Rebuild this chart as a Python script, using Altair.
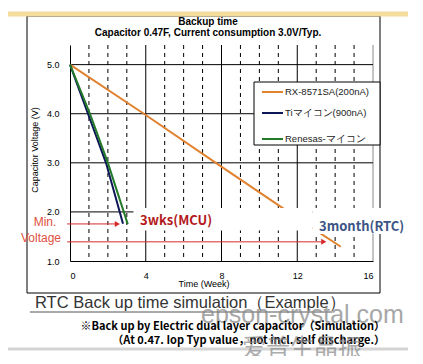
import altair as alt
import pandas as pd

# ---- data ----
weeks_rtc = [0.0, 3.9, 7.7, 12.8, 14.3]
volts_rtc = [5.0, 4.0, 3.0, 1.67, 1.29]
weeks_ti = [0.0, 0.95, 1.9, 2.8]
volts_ti = [5.0, 4.0, 3.0, 1.76]
weeks_ren = [0.0, 1.05, 2.0, 3.05]
volts_ren = [5.0, 4.0, 3.0, 1.75]
series_names = ["RX-8571SA(200nA)", "Tiマイコン(900nA)", "Renesas-マイコン"]
series_colors = ["#e0822f", "#0d1757", "#237a2a"]

x_ticks = [0, 4, 8, 12, 16]
y_ticks = [1.0, 2.0, 3.0, 4.0, 5.0]
minor_weeks = [1, 2, 3, 5, 6, 7, 9, 10, 11, 13, 14, 15]
major_weeks = [4, 8, 12]
h_grid = [2.0, 3.0, 4.0, 5.0]

arrow_y = [1.755, 1.39]
arrow_end = [2.5, 13.4]

rows = []
for n, xs, ys in [(series_names[0], weeks_rtc, volts_rtc),
                  (series_names[1], weeks_ti, volts_ti),
                  (series_names[2], weeks_ren, volts_ren)]:
    for i, (a, b) in enumerate(zip(xs, ys)):
        rows.append({"series": n, "week": a, "volt": b, "order": i})
df = pd.DataFrame(rows)

W, H = 303, 216
xs = alt.Scale(domain=[0, 16], nice=False, zero=False)
ys = alt.Scale(domain=[1, 5.4], nice=False, zero=False)
FONT = "Liberation Sans"

base = alt.Chart(df)

vminor = alt.Chart(pd.DataFrame({"w": minor_weeks})).mark_rule(
    color="black", strokeWidth=1, strokeDash=[4, 4]).encode(
    x=alt.X("w:Q", scale=xs), y=alt.value(0), y2=alt.value(H))
vmajor = alt.Chart(pd.DataFrame({"w": major_weeks})).mark_rule(
    color="black", strokeWidth=1).encode(
    x=alt.X("w:Q", scale=xs), y=alt.value(0), y2=alt.value(H))
vright = alt.Chart(pd.DataFrame({"w": [16]})).mark_rule(
    color="#888888", strokeWidth=1).encode(
    x=alt.X("w:Q", scale=xs), y=alt.value(0), y2=alt.value(H))
hgrid = alt.Chart(pd.DataFrame({"v": h_grid})).mark_rule(
    color="black", strokeWidth=1).encode(
    y=alt.Y("v:Q", scale=ys), x=alt.value(0), x2=alt.value(W))

lines = base.mark_line(strokeWidth=2).encode(
    x=alt.X("week:Q", scale=xs,
            axis=alt.Axis(values=x_ticks, format="d", grid=False, ticks=False,
                          domainColor="black", labelFont=FONT, labelFontSize=9,
                          labelColor="black", labelPadding=10, title=None)),
    y=alt.Y("volt:Q", scale=ys,
            axis=alt.Axis(values=y_ticks, format=".1f", grid=False, ticks=False,
                          domainColor="black", labelFont=FONT, labelFontSize=9,
                          labelColor="black", labelPadding=11, title=None)),
    color=alt.Color("series:N", scale=alt.Scale(domain=series_names, range=series_colors),
                    legend=None),
    order="order:Q",
)

boxes = alt.Chart(pd.DataFrame({"x1": [3.35, 12.8], "x2": [12.8, 17.7],
                                "y1": [1.62, 1.55], "y2": [2.08, 2.08]})).mark_rect(
    color="white").encode(
    x=alt.X("x1:Q", scale=xs), x2="x2:Q",
    y=alt.Y("y1:Q", scale=ys), y2="y2:Q")

arr_df = pd.DataFrame({"y": arrow_y, "xe": arrow_end, "xs": [-0.15, -0.15]})
arrows = alt.Chart(arr_df).mark_rule(color="#d42a2a", strokeWidth=1).encode(
    x=alt.X("xs:Q", scale=xs), x2="xe:Q", y=alt.Y("y:Q", scale=ys))
heads = alt.Chart(arr_df).mark_point(shape="triangle-right", filled=True,
                                     color="#d42a2a", size=36, opacity=1).encode(
    x=alt.X("xe:Q", scale=xs), y=alt.Y("y:Q", scale=ys))

ann = alt.Chart(pd.DataFrame({"t": ["3wks(MCU)", "3month(RTC)"],
                              "x": [3.7, 13.15], "y": [1.82, 1.69],
                              "c": ["#b3191c", "#3c5585"]})).mark_text(
    align="left", baseline="middle", font="Noto Sans CJK JP", fontSize=13,
    fontWeight="bold").encode(
    x=alt.X("x:Q", scale=xs), y=alt.Y("y:Q", scale=ys), text="t:N",
    color=alt.Color("c:N", scale=None))

def txt(t, x, y, size=10, bold=False, color="black", align="center",
        font=FONT, angle=0, opacity=1.0):
    kw = dict(text=t, fontSize=size, color=color, align=align, baseline="middle",
              font=font, opacity=opacity)
    if bold:
        kw["fontWeight"] = "bold"
    if angle:
        kw["angle"] = angle
    return alt.Chart(pd.DataFrame({"a": [0]})).mark_text(**kw).encode(
        x=alt.value(x), y=alt.value(y))

def rule(x1, y1, x2, y2, color="black", width=1):
    return alt.Chart(pd.DataFrame({"a": [0]})).mark_rule(
        color=color, strokeWidth=width).encode(
        x=alt.value(x1), x2=alt.value(x2), y=alt.value(y1), y2=alt.value(y2))

# legend (drawn by hand to match the boxed legend)
leg_rows = [47, 68, 94]
legend_layers = [
    alt.Chart(pd.DataFrame({"a": [0]})).mark_rect(
        fill="white", stroke="black", strokeWidth=1).encode(
        x=alt.value(184), x2=alt.value(310), y=alt.value(37), y2=alt.value(100))
]
for name, col, ry in zip(series_names, series_colors, leg_rows):
    legend_layers.append(rule(192, ry, 213, ry, color=col, width=2))
    legend_layers.append(txt(name, 215, ry, size=9.5, align="left", color="#222222"))

decor = [
    # outer frame
    alt.Chart(pd.DataFrame({"a": [0]})).mark_rect(
        fill=None, stroke="black", strokeWidth=1).encode(
        x=alt.value(-43), x2=alt.value(310), y=alt.value(-29), y2=alt.value(248)),
    rule(-62, -31, 338, -31, color="#f4dc9c", width=5),
    rule(-40, 267, 262, 267, color="#555555", width=1),
    rule(-62, 304, 338, 304, color="#d4d4d4", width=3),
]

texts = [
    txt("Backup time", 138, -23, size=10, bold=True),
    txt("Capacitor 0.47F, Current consumption 3.0V/Typ.", 138, -12, size=10, bold=True),
    txt("Capacitor Voltage (V)", -35, 105, size=9, angle=270),
    txt("Time (Week)", 134, 239, size=9),
    txt("Min.", -25, 177, size=12, color="#e0503e"),
    txt("Voltage", -29, 193, size=12, color="#e0503e"),
    txt("RTC Back up time simulation（Example）", -35, 258, size=16.5, align="left",
        color="#333333"),
    txt("epson-crystal.com", 131, 270, size=25, align="left", color="#8a8a8a",
        opacity=0.75),
    txt("※Back up by Electric dual layer capacitor（Simulation）", 315, 282, size=11,
        bold=True, align="right", font="Noto Sans CJK JP"),
    txt("（At 0.47. Iop Typ value，not incl. self discharge.）", 315, 296, size=11,
        bold=True, align="right", font="Noto Sans CJK JP"),
    txt("爱普生晶振", 172, 304, size=24, align="left", color="#8a8a8a",
        font="Noto Sans CJK SC", opacity=0.7),
]

chart = alt.layer(
    *decor, vminor, vmajor, vright, hgrid, lines, boxes, arrows, heads, ann,
    *legend_layers, *texts
).properties(
    width=W, height=H,
    autosize=alt.AutoSizeParams(type="none"),
    padding={"left": 62, "top": 37, "right": 42, "bottom": 95},
    background="white",
).configure_view(stroke=None)

chart.save("out.html", embed_options={"renderer": "svg", "actions": False})
